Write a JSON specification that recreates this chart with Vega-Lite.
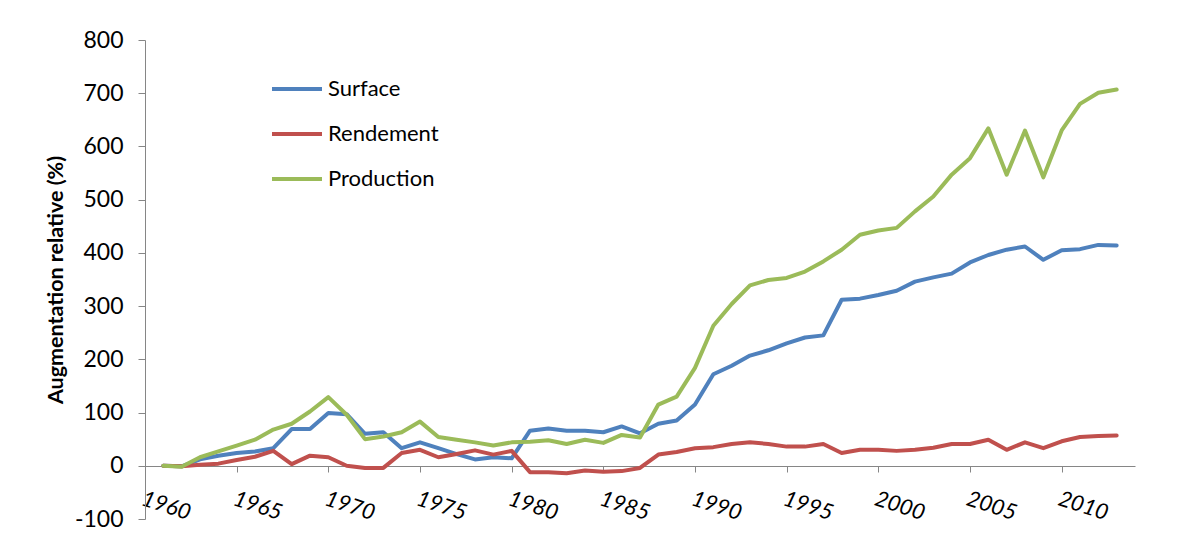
{
  "$schema": "https://vega.github.io/schema/vega-lite/v6.json",
  "width": 990,
  "height": 479,
  "autosize": {"type": "none"},
  "padding": {"left": 145, "top": 40, "right": 61, "bottom": 20},
  "background": "white",
  "config": {
    "view": {"stroke": null},
    "font": "Lato",
    "axis": {"grid": false, "domainColor": "#868686", "tickColor": "#868686", "labelColor": "#000000", "titleColor": "#000000", "labelFont": "Lato", "titleFont": "Lato"}
  },
  "datasets": {
    "rows": [
      {"year": 1961, "Surface": 0, "Rendement": 0, "Production": 0},
      {"year": 1962, "Surface": -1, "Rendement": -1, "Production": -2},
      {"year": 1963, "Surface": 12, "Rendement": 2, "Production": 16},
      {"year": 1964, "Surface": 19, "Rendement": 4, "Production": 27},
      {"year": 1965, "Surface": 24, "Rendement": 11, "Production": 38},
      {"year": 1966, "Surface": 27, "Rendement": 17, "Production": 49},
      {"year": 1967, "Surface": 33, "Rendement": 28, "Production": 68},
      {"year": 1968, "Surface": 69, "Rendement": 3, "Production": 79},
      {"year": 1969, "Surface": 69, "Rendement": 19, "Production": 102},
      {"year": 1970, "Surface": 99, "Rendement": 16, "Production": 129},
      {"year": 1971, "Surface": 97, "Rendement": 0, "Production": 96},
      {"year": 1972, "Surface": 60, "Rendement": -4, "Production": 50},
      {"year": 1973, "Surface": 63, "Rendement": -4, "Production": 55},
      {"year": 1974, "Surface": 33, "Rendement": 24, "Production": 63},
      {"year": 1975, "Surface": 44, "Rendement": 30, "Production": 83},
      {"year": 1976, "Surface": 33, "Rendement": 16, "Production": 54},
      {"year": 1977, "Surface": 22, "Rendement": 22, "Production": 49},
      {"year": 1978, "Surface": 12, "Rendement": 29, "Production": 44},
      {"year": 1979, "Surface": 16, "Rendement": 21, "Production": 38},
      {"year": 1980, "Surface": 14, "Rendement": 28, "Production": 44},
      {"year": 1981, "Surface": 66, "Rendement": -12, "Production": 45},
      {"year": 1982, "Surface": 70, "Rendement": -12, "Production": 48},
      {"year": 1983, "Surface": 66, "Rendement": -14, "Production": 41},
      {"year": 1984, "Surface": 66, "Rendement": -9, "Production": 49},
      {"year": 1985, "Surface": 63, "Rendement": -11, "Production": 43},
      {"year": 1986, "Surface": 74, "Rendement": -10, "Production": 58},
      {"year": 1987, "Surface": 61, "Rendement": -4, "Production": 53},
      {"year": 1988, "Surface": 79, "Rendement": 21, "Production": 115},
      {"year": 1989, "Surface": 85, "Rendement": 26, "Production": 130},
      {"year": 1990, "Surface": 115, "Rendement": 33, "Production": 184},
      {"year": 1991, "Surface": 172, "Rendement": 35, "Production": 263},
      {"year": 1992, "Surface": 188, "Rendement": 41, "Production": 304},
      {"year": 1993, "Surface": 207, "Rendement": 44, "Production": 339},
      {"year": 1994, "Surface": 217, "Rendement": 41, "Production": 349},
      {"year": 1995, "Surface": 230, "Rendement": 36, "Production": 353},
      {"year": 1996, "Surface": 241, "Rendement": 36, "Production": 365},
      {"year": 1997, "Surface": 245, "Rendement": 41, "Production": 384},
      {"year": 1998, "Surface": 312, "Rendement": 24, "Production": 406},
      {"year": 1999, "Surface": 314, "Rendement": 30, "Production": 434},
      {"year": 2000, "Surface": 321, "Rendement": 30, "Production": 442},
      {"year": 2001, "Surface": 329, "Rendement": 28, "Production": 447},
      {"year": 2002, "Surface": 346, "Rendement": 30, "Production": 478},
      {"year": 2003, "Surface": 354, "Rendement": 34, "Production": 506},
      {"year": 2004, "Surface": 361, "Rendement": 41, "Production": 547},
      {"year": 2005, "Surface": 382, "Rendement": 41, "Production": 578},
      {"year": 2006, "Surface": 396, "Rendement": 49, "Production": 634},
      {"year": 2007, "Surface": 406, "Rendement": 30, "Production": 547},
      {"year": 2008, "Surface": 412, "Rendement": 44, "Production": 630},
      {"year": 2009, "Surface": 387, "Rendement": 33, "Production": 542},
      {"year": 2010, "Surface": 405, "Rendement": 46, "Production": 630},
      {"year": 2011, "Surface": 407, "Rendement": 54, "Production": 680},
      {"year": 2012, "Surface": 415, "Rendement": 56, "Production": 701},
      {"year": 2013, "Surface": 414, "Rendement": 57, "Production": 707}
    ]
  },
  "data": {"name": "rows"},
  "transform": [
    {"fold": ["Surface", "Rendement", "Production"], "as": ["series", "value"]}
  ],
  "mark": {"type": "line", "strokeWidth": 4, "strokeCap": "round", "strokeJoin": "round"},
  "encoding": {
    "x": {
      "field": "year",
      "type": "quantitative",
      "scale": {"domain": [1960, 2014], "nice": false, "zero": false},
      "axis": {
        "title": null,
        "values": [1960, 1965, 1970, 1975, 1980, 1985, 1990, 1995, 2000, 2005, 2010],
        "format": "d",
        "offset": -53,
        "tickSize": 6,
        "labelAngle": 18,
        "labelAlign": "left",
        "labelBaseline": "top",
        "labelPadding": 16,
        "labelFontSize": 22,
        "labelFontStyle": "italic",
        "labelFlush": false,
        "labelOverlap": false
      }
    },
    "y": {
      "field": "value",
      "type": "quantitative",
      "scale": {"domain": [-100, 800], "nice": false},
      "axis": {
        "title": "Augmentation relative (%)",
        "values": [-100, 0, 100, 200, 300, 400, 500, 600, 700, 800],
        "labelExpr": "replace(datum.label, '\u2212', '-')",
        "tickSize": 7,
        "labelPadding": 15,
        "labelFontSize": 23,
        "titleFontSize": 21.5,
        "titleFontWeight": "bold",
        "titlePadding": 7
      }
    },
    "color": {
      "field": "series",
      "type": "nominal",
      "scale": {"domain": ["Surface", "Rendement", "Production"], "range": ["#4F81BD", "#C0504D", "#9BBB59"]},
      "legend": {
        "title": null,
        "orient": "none",
        "legendX": 125,
        "legendY": 22,
        "symbolType": "stroke",
        "symbolSize": 2500,
        "symbolStrokeWidth": 4,
        "labelFontSize": 22,
        "labelOffset": 4,
        "rowPadding": 7,
        "labelColor": "#000000"
      }
    }
  }
}
